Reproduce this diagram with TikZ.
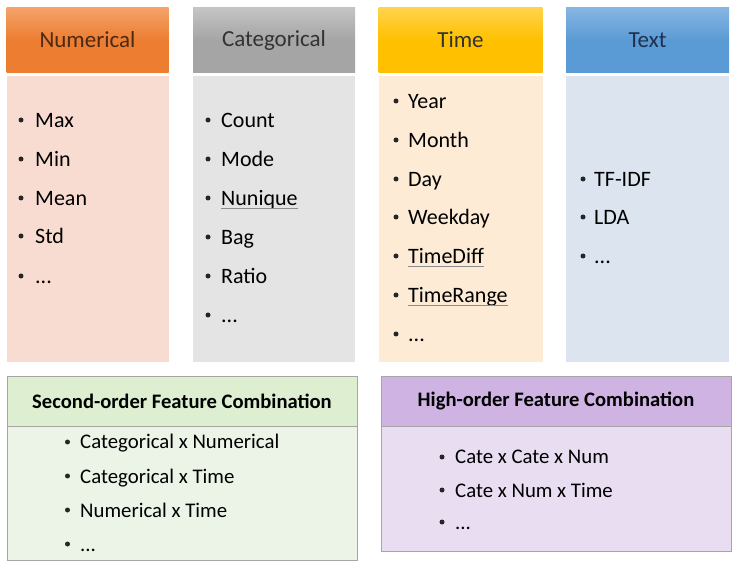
\documentclass[tikz,border=0pt]{standalone}
\usepackage{fontspec}
\setmainfont{Carlito}
\definecolor{orH}{HTML}{ED7D31}
\definecolor{orHt}{HTML}{F4A36A}
\definecolor{orB}{HTML}{F9DCD1}
\definecolor{grH}{HTML}{A5A5A5}
\definecolor{grHt}{HTML}{C4C4C4}
\definecolor{grB}{HTML}{E4E4E4}
\definecolor{yeH}{HTML}{FFC000}
\definecolor{yeHt}{HTML}{FFD34D}
\definecolor{yeB}{HTML}{FDEBD6}
\definecolor{blH}{HTML}{5B9BD5}
\definecolor{blHt}{HTML}{86B6E2}
\definecolor{blB}{HTML}{DCE4F0}
\definecolor{gnH}{HTML}{DDEFD0}
\definecolor{gnB}{HTML}{ECF4E8}
\definecolor{puH}{HTML}{CFB4E3}
\definecolor{puB}{HTML}{E8DDF1}
\definecolor{hdtxt}{HTML}{333333}
\definecolor{numtxt}{HTML}{4A2A14}
\definecolor{txttxt}{HTML}{1F3050}
\definecolor{bord}{HTML}{A6A6A6}
\tikzset{
  hdr/.style={draw=none, minimum height=65pt, inner sep=0pt, text=hdtxt, font=\fontsize{23}{27}\selectfont},
  item/.style={anchor=base west, inner sep=0pt, text=black, font=\fontsize{22}{26}\selectfont},
  bitem/.style={anchor=base west, inner sep=0pt, text=black, font=\fontsize{20.8}{25}\selectfont},
  bhdr/.style={inner sep=0pt, text=black, font=\bfseries\fontsize{20.6}{24}\selectfont},
  dot/.style={fill=black!85, draw=none, circle, inner sep=0pt, minimum size=5pt},
  squig/.style={draw=black!45, line width=0.6pt}
}
\begin{document}
\begin{tikzpicture}[x=1pt,y=-1pt]
\useasboundingbox (0,0) rectangle (740,564);
\fill[white] (0,0) rectangle (740,564);
% column headers
\node[hdr, minimum width=162pt, top color=orHt, bottom color=orH, middle color=orH, text=numtxt] (hnum) at (87.5,40) {Numerical};
\node[hdr, minimum width=162pt, top color=grHt, bottom color=grH, middle color=grH, text=hdtxt] (hcat) at (274,40) {Categorical};
\node[hdr, minimum width=164pt, top color=yeHt, bottom color=yeH, middle color=yeH, text=hdtxt] (htim) at (460.5,40) {Time};
\node[hdr, minimum width=163pt, top color=blHt, bottom color=blH, middle color=blH, text=txttxt] (htxt) at (647.5,40) {Text};
% column bodies
\fill[orB] (6.5,76) rectangle (168.5,362);
\fill[grB] (193,76) rectangle (355,362);
\fill[yeB] (378.5,76) rectangle (542.5,362);
\fill[blB] (566,76) rectangle (729,362);
% Numerical items
\foreach \t/\y [count=\i] in {Max/120, Min/159, Mean/198, Std/236, {...}/276}{
  \node[dot] (nd\i) at (21,\y) {};
  \node[item] (ni\i) at (35,\y+7.5) {\t};
}
% Categorical items
\foreach \t/\y [count=\i] in {Count/120, Mode/159, Nunique/198, Bag/237, Ratio/276, {...}/315}{
  \node[dot] (cd\i) at (208,\y) {};
  \node[item] (ci\i) at (221,\y+7.5) {\t};
}
% Time items
\foreach \t/\y [count=\i] in {Year/101, Month/140, Day/179, Weekday/217, TimeDiff/256, TimeRange/295, {...}/334}{
  \node[dot] (td\i) at (396,\y) {};
  \node[item] (ti\i) at (408,\y+7.5) {\t};
}
% Text items
\foreach \t/\y [count=\i] in {TF-IDF/179, LDA/217, {...}/256}{
  \node[dot] (xd\i) at (583,\y) {};
  \node[item] (xi\i) at (594,\y+7.5) {\t};
}
% spell-check underlines
\draw[squig] ([yshift=-2.5pt]ci3.base west) -- ([yshift=-2.5pt]ci3.base east);
\draw[squig] ([yshift=-2.5pt]ti5.base west) -- ([yshift=-2.5pt]ti5.base east);
\draw[squig] ([yshift=-2.5pt]ti6.base west) -- ([yshift=-2.5pt]ti6.base east);
% Second-order box
\fill[gnB] (7,426) rectangle (357,560.5);
\fill[gnH] (7,376) rectangle (357,426);
\draw[bord, line width=0.6pt] (7,376) rectangle (357,560.5);
\draw[bord, line width=0.6pt] (7,426) -- (357,426);
\node[bhdr] (hsec) at (182,401.5) {Second-order Feature Combination};
\foreach \t/\y [count=\i] in {Categorical x Numerical/442, Categorical x Time/476, Numerical x Time/510, {...}/544}{
  \node[dot] (sd\i) at (67.5,\y) {};
  \node[bitem] (si\i) at (80,\y+7) {\t};
}
% High-order box
\fill[puB] (381,426) rectangle (731,551);
\fill[puH] (381,376) rectangle (731,426);
\draw[bord, line width=0.6pt] (381,376) rectangle (731,551);
\draw[bord, line width=0.6pt] (381,426) -- (731,426);
\node[bhdr] (hhigh) at (556,401.5) {High-order Feature Combination};
\foreach \t/\y [count=\i] in {Cate x Cate x Num/457, Cate x Num x Time/490, {...}/522}{
  \node[dot] (hd\i) at (442,\y) {};
  \node[bitem] (hi\i) at (455,\y+7) {\t};
}
\end{tikzpicture}
\end{document}
